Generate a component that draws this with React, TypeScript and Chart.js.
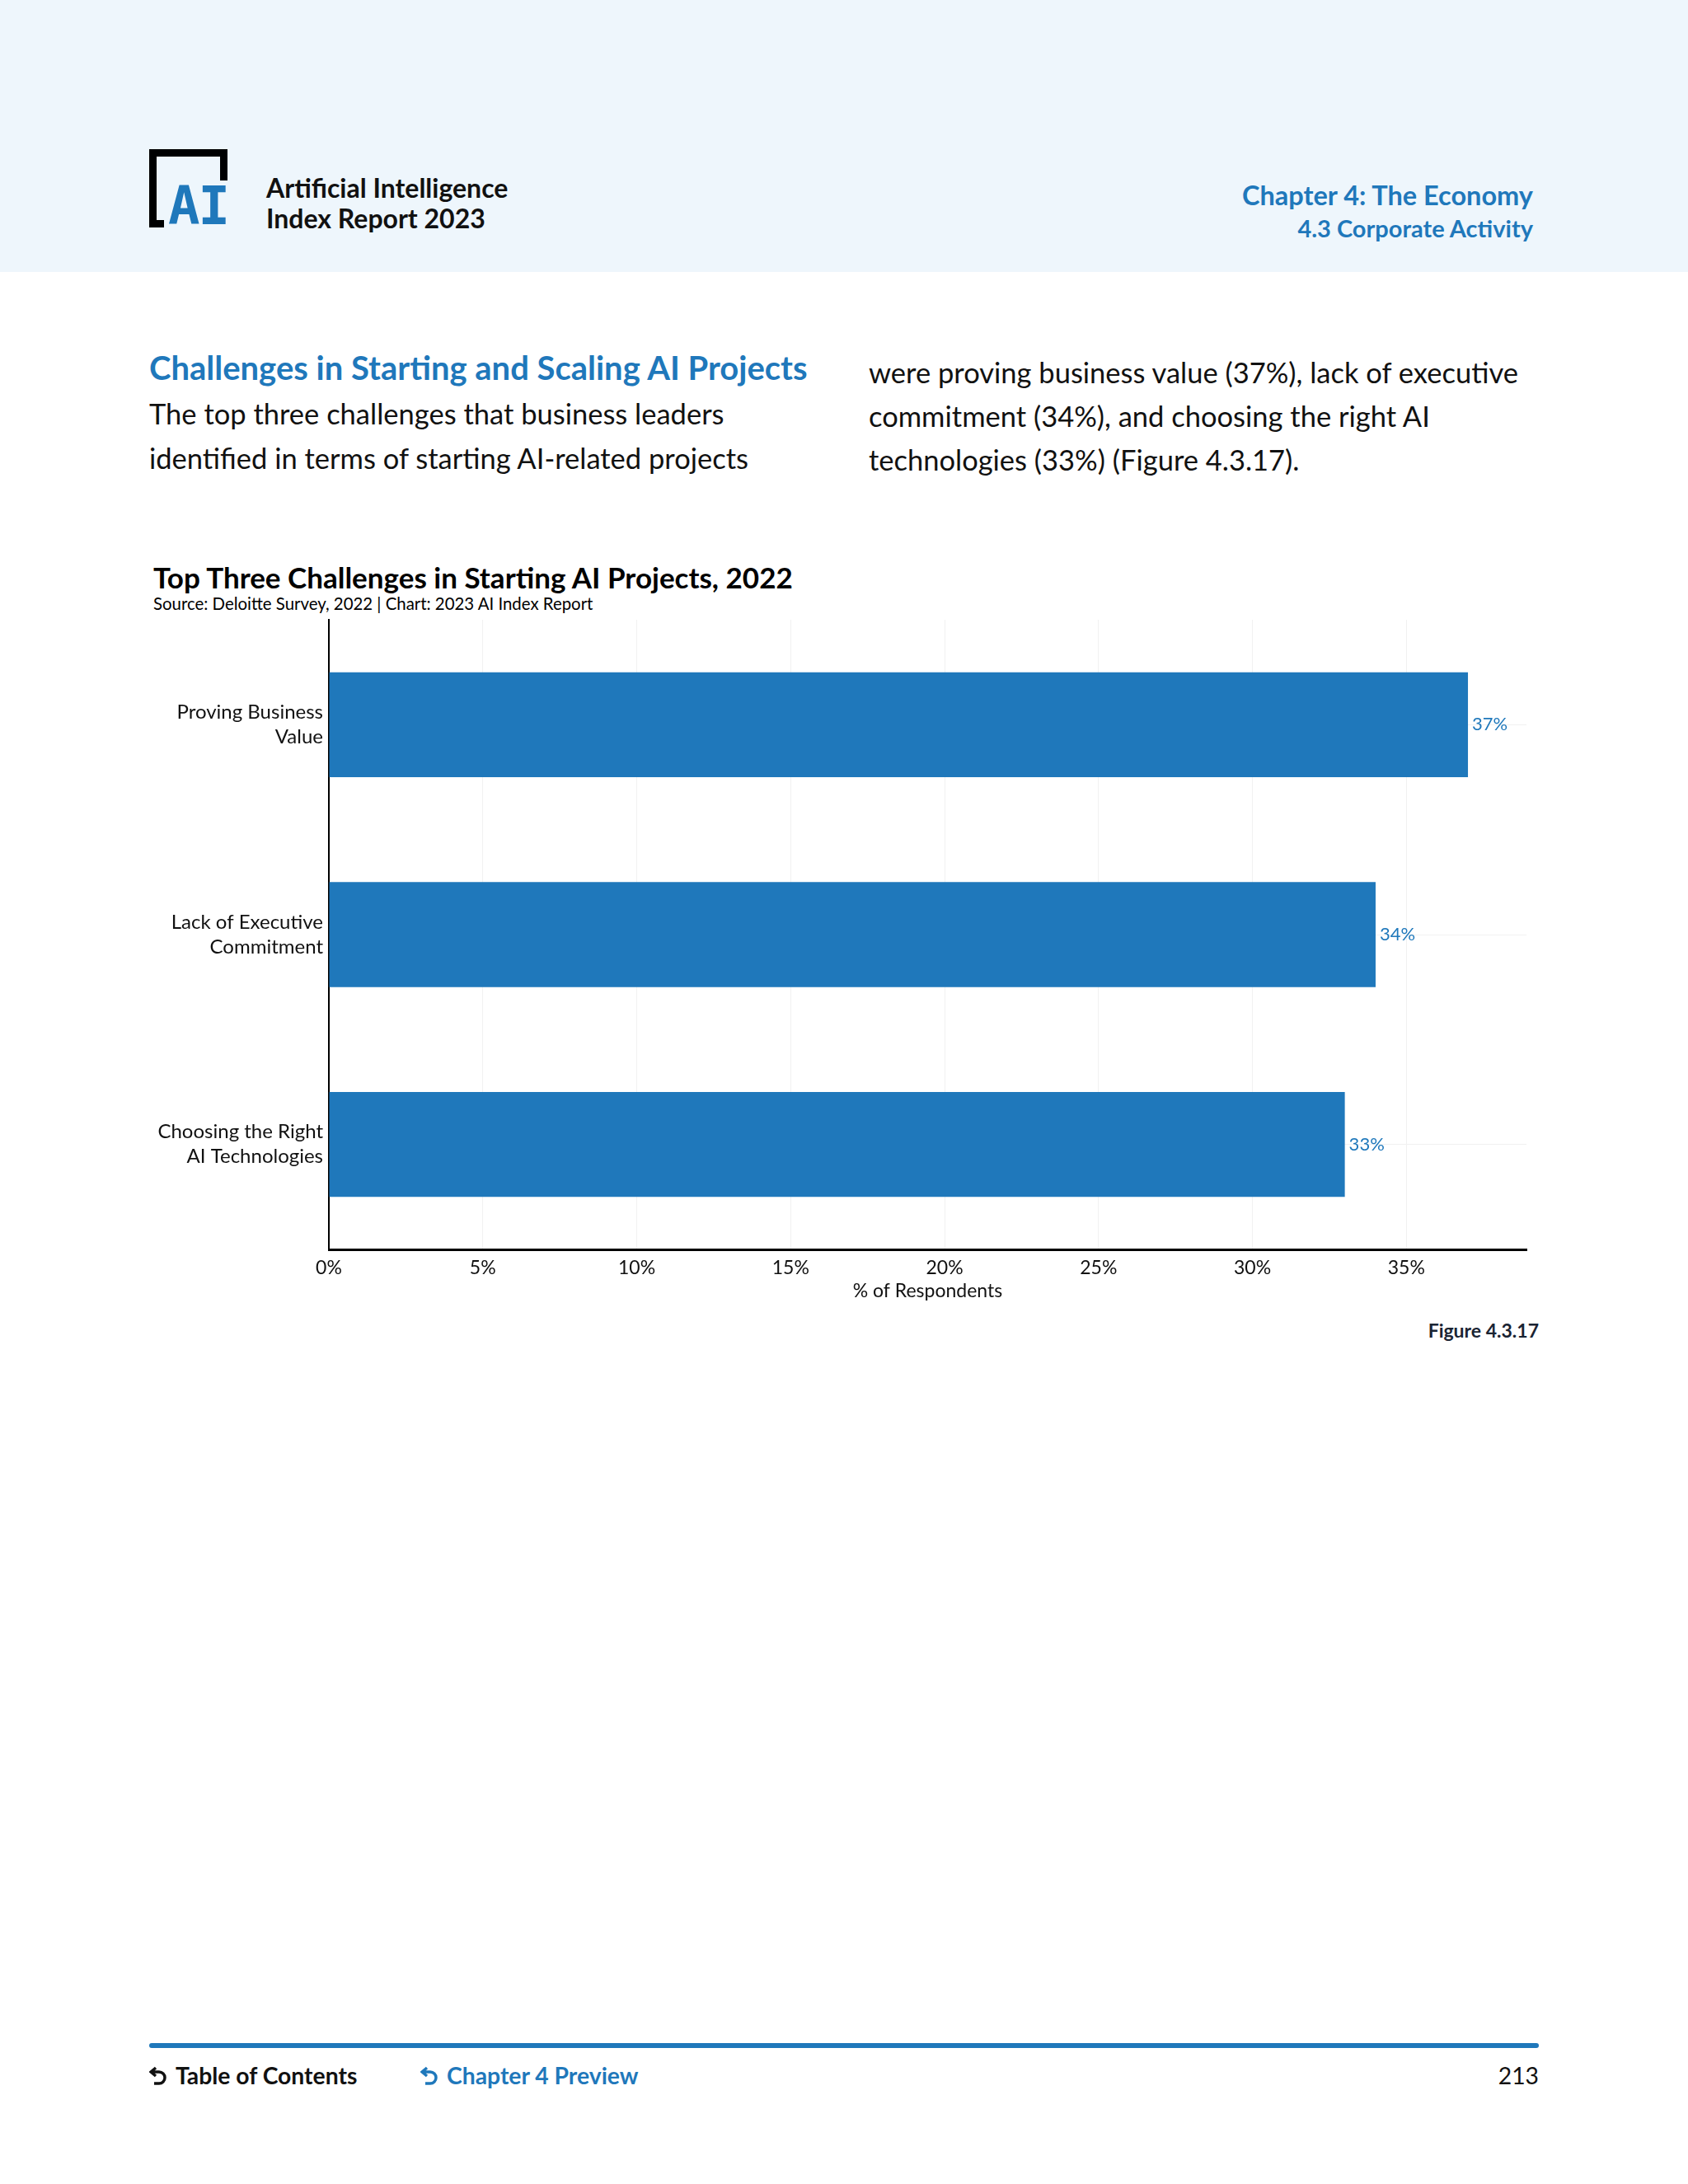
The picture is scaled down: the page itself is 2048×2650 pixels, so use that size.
import React, { useEffect, useRef } from "react";
import { Chart, registerables } from "chart.js";

Chart.register(...registerables);

const categories: string[][] = [
  ["Proving Business", "Value"],
  ["Lack of Executive", "Commitment"],
  ["Choosing the Right", "AI Technologies"],
];
const values: number[] = [37, 34, 33];
const xTicks: number[] = [0, 5, 10, 15, 20, 25, 30, 35];

const FONT = "Lato, 'Noto Sans', sans-serif";
const BLUE = "#1f78bb";

const valueLabels = {
  id: "valueLabels",
  afterDatasetsDraw(chart: any) {
    const ctx = chart.ctx;
    const meta = chart.getDatasetMeta(0);
    ctx.save();
    ctx.font = `22px ${FONT}`;
    ctx.fillStyle = BLUE;
    ctx.textAlign = "left";
    ctx.textBaseline = "middle";
    meta.data.forEach((bar: any, i: number) => {
      ctx.fillText(`${values[i]}%`, bar.x + 5, bar.y);
    });
    ctx.restore();
  },
};

function ChartBox() {
  const ref = useRef<HTMLCanvasElement | null>(null);
  useEffect(() => {
    if (!ref.current) return;
    const chart = new Chart(ref.current, {
      type: "bar",
      data: {
        labels: categories,
        datasets: [
          {
            data: values,
            backgroundColor: BLUE,
            barPercentage: 0.5,
            categoryPercentage: 1,
          },
        ],
      },
      options: {
        indexAxis: "y",
        animation: false,
        responsive: false,
        maintainAspectRatio: false,
        devicePixelRatio: 1,
        layout: { padding: { top: 12, right: 48, left: 0, bottom: 0 } },
        plugins: { legend: { display: false }, tooltip: { enabled: false } },
        scales: {
          x: {
            min: 0,
            max: 38.9,
            afterBuildTicks: (scale: any) => {
              scale.ticks = xTicks.map((v) => ({ value: v }));
            },
            afterFit: (scale: any) => {
              scale.height = 84;
              scale.paddingLeft = 0;
              scale.paddingRight = 0;
            },
            grid: { color: "#f1f1f1", lineWidth: 1, drawTicks: false },
            border: { color: "#000", width: 3 },
            ticks: {
              color: "#111",
              font: { family: FONT, size: 23 },
              padding: 9,
              maxRotation: 0,
              callback: (v: any) => `${v}%`,
            },
            title: {
              display: true,
              text: "% of Respondents",
              color: "#111",
              font: { family: FONT, size: 23 },
              padding: { top: 0, bottom: 20 },
            },
          },
          y: {
            afterFit: (scale: any) => {
              scale.width = 299;
              scale.paddingTop = 0;
              scale.paddingBottom = 0;
            },
            grid: { color: "#f1f1f1", lineWidth: 1, drawTicks: false, offset: false },
            border: { color: "#000", width: 2 },
            ticks: {
              color: "#111",
              font: { family: FONT, size: 24, lineHeight: 1.25 },
              padding: 7,
            },
          },
        },
      },
      plugins: [valueLabels],
    });
    return () => chart.destroy();
  }, []);
  return <canvas ref={ref} width={1800} height={860} style={{ width: 1800, height: 860 }} />;
}

function BackIcon({ color }: { color: string }) {
  return (
    <svg width="22" height="26" viewBox="0 0 22 26" style={{ marginRight: 10, verticalAlign: "-3px" }}>
      <path d="M8 3 L2 8 L8 13 M2 8 H12 A7 7 0 0 1 12 22 H6" fill="none" stroke={color} strokeWidth="3.5" />
    </svg>
  );
}

export default function App() {
  useEffect(() => {
    document.body.style.margin = "0";
  }, []);
  const abs = (s: React.CSSProperties): React.CSSProperties => ({ position: "absolute", ...s });
  return (
    <div style={{ position: "relative", width: 2048, height: 2650, background: "#fff", fontFamily: FONT, overflow: "hidden" }}>
      {/* header */}
      <div style={abs({ left: 0, top: 0, width: 2048, height: 330, background: "#eef6fc" })} />
      {/* logo */}
      <div style={abs({ left: 181, top: 181, width: 9, height: 95, background: "#000" })} />
      <div style={abs({ left: 181, top: 181, width: 95, height: 9, background: "#000" })} />
      <div style={abs({ left: 267, top: 181, width: 9, height: 38, background: "#000" })} />
      <div style={abs({ left: 181, top: 267, width: 18, height: 9, background: "#000" })} />
      <div style={abs({ left: 204, top: 220, fontFamily: "'DejaVu Sans Mono', monospace", fontWeight: 700, fontSize: 64, lineHeight: "60px", color: BLUE, letterSpacing: -2 })}>AI</div>
      <div style={abs({ left: 323, top: 209, fontSize: 32, fontWeight: 700, lineHeight: "37px", color: "#111" })}>
        Artificial Intelligence
        <br />
        Index Report 2023
      </div>
      <div style={abs({ right: 2048 - 1860, top: 217, fontSize: 32.5, fontWeight: 700, color: BLUE, textAlign: "right", whiteSpace: "nowrap" })}>Chapter 4: The Economy</div>
      <div style={abs({ right: 2048 - 1860, top: 259, fontSize: 29, fontWeight: 700, color: BLUE, textAlign: "right", whiteSpace: "nowrap" })}>4.3 Corporate Activity</div>

      {/* text */}
      <div style={abs({ left: 181, top: 422, fontSize: 40, fontWeight: 700, color: BLUE, whiteSpace: "nowrap" })}>Challenges in Starting and Scaling AI Projects</div>
      <div style={abs({ left: 181, top: 475, width: 860, fontSize: 34.5, lineHeight: "54px", color: "#111" })}>
        The top three challenges that business leaders
        <br />
        identified in terms of starting AI-related projects
      </div>
      <div style={abs({ left: 1054, top: 425, width: 860, fontSize: 34.5, lineHeight: "53px", color: "#111" })}>
        were proving business value (37%), lack of executive
        <br />
        commitment (34%), and choosing the right AI
        <br />
        technologies (33%) (Figure 4.3.17).
      </div>

      {/* chart title */}
      <div style={abs({ left: 186, top: 679, fontSize: 35, fontWeight: 700, color: "#000", whiteSpace: "nowrap" })}>Top Three Challenges in Starting AI Projects, 2022</div>
      <div style={abs({ left: 186, top: 720, fontSize: 20.4, color: "#000", whiteSpace: "nowrap" })}>Source: Deloitte Survey, 2022 | Chart: 2023 AI Index Report</div>

      <div style={abs({ left: 100, top: 740, width: 1800, height: 860 })}>
        <ChartBox />
      </div>

      <div style={abs({ right: 2048 - 1867, top: 1600, fontSize: 23, fontWeight: 700, color: "#1a2433", whiteSpace: "nowrap" })}>Figure 4.3.17</div>

      {/* footer */}
      <div style={abs({ left: 181, top: 2479, width: 1686, height: 6, background: BLUE, borderRadius: 3 })} />
      <div style={abs({ left: 181, top: 2501, fontSize: 28.3, fontWeight: 700, color: "#111", whiteSpace: "nowrap" })}>
        <BackIcon color="#111" />
        Table of Contents
      </div>
      <div style={abs({ left: 510, top: 2501, fontSize: 28.3, fontWeight: 700, color: BLUE, whiteSpace: "nowrap" })}>
        <BackIcon color={BLUE} />
        Chapter 4 Preview
      </div>
      <div style={abs({ right: 2048 - 1867, top: 2501, fontSize: 28.3, color: "#111", whiteSpace: "nowrap" })}>213</div>
    </div>
  );
}
